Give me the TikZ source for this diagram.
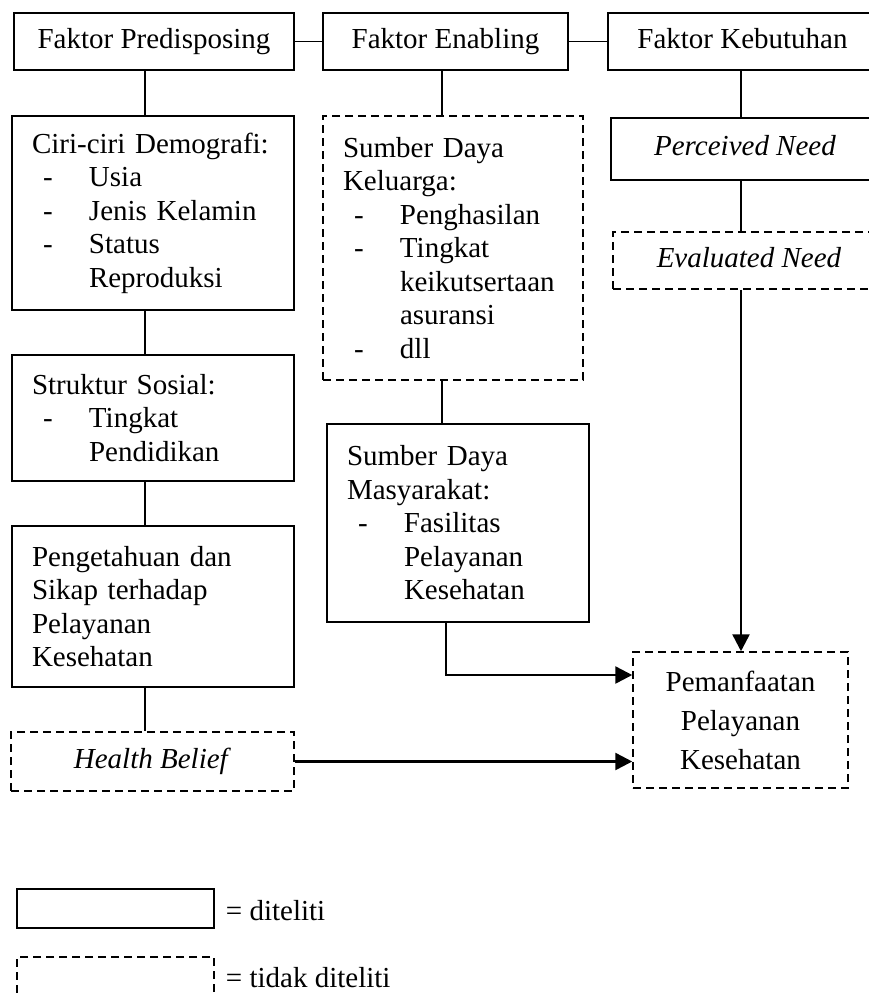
\documentclass[tikz,border=0pt]{standalone}
\usepackage{fontspec}
\setmainfont{Liberation Serif}
\usetikzlibrary{arrows.meta,positioning}
\newcommand{\dashitem}{\hspace*{11pt}\makebox[46pt][l]{-}}
\newcommand{\itemcont}{\hspace*{57pt}}
\newcommand{\boxfont}{\fontsize{29}{33.5}\selectfont}

\begin{document}
\begin{tikzpicture}[x=1pt, y=-1pt, >={Triangle[length=17pt,width=17pt]}, font=\boxfont]
		\tikzstyle{box} = [draw, line width=1.5pt, inner xsep=20pt, inner ysep=0pt]
		\tikzstyle{dbox} = [box, dash pattern=on 8pt off 5pt]
		\tikzstyle{line} = [text height=20pt, text depth=6.5pt]
		\tikzstyle{link} = [line width=1.5pt]
		\tikzstyle{arrow} = [->, line width=2.5pt]

		\useasboundingbox (0,0) rectangle (869,994);

		% faktor
		\node[box, line, minimum width=280pt, minimum height=57pt] (pred) at (154,41.5) {Faktor Predisposing};
		\node[box, line, minimum width=245pt, minimum height=57pt] (enab) at (445.5,41.5) {Faktor Enabling};
		\node[box, line, minimum width=269pt, minimum height=57pt] (kebu) at (742.5,41.5) {Faktor Kebutuhan};

		% predisposing
		\node[box, text width=242pt, align=left, minimum height=194pt] (ciri) at (153,213)
			{Ciri-ciri Demografi:\\ \dashitem Usia\\ \dashitem Jenis Kelamin\\ \dashitem Status\\ \itemcont Reproduksi};
		\node[box, text width=242pt, align=left, minimum height=126pt] (stru) at (153,418)
			{Struktur Sosial:\\ \dashitem Tingkat\\ \itemcont Pendidikan};
		\node[box, text width=242pt, align=left, minimum height=161pt] (peng) at (153,606.5)
			{Pengetahuan dan\\ Sikap terhadap\\ Pelayanan\\ Kesehatan};
		\node[dbox, line, minimum width=283pt, minimum height=59pt] (hb) at (152.5,761.5) {\textit{Health Belief}};

		% enabling
		\node[dbox, text width=220pt, align=left, minimum height=264pt] (kelu) at (453,248)
			{Sumber Daya\\ Keluarga:\\ \dashitem Penghasilan\\ \dashitem Tingkat\\ \itemcont keikutsertaan\\ \itemcont asuransi\\ \dashitem dll};
		\node[box, text width=222pt, align=left, minimum height=198pt] (pmas) at (458,523)
			{Sumber Daya\\ Masyarakat:\\ \dashitem Fasilitas\\ \itemcont Pelayanan\\ \itemcont Kesehatan};

		% kebutuhan
		\node[box, line, minimum width=268pt, minimum height=62pt] (perc) at (745,149) {\textit{Perceived Need}};
		\node[dbox, line, minimum width=272pt, minimum height=57pt] (eval) at (749,260.5) {\textit{Evaluated Need}};

		\node[dbox, text width=175pt, align=center, minimum height=136pt, font=\fontsize{29}{39}\selectfont] (pman) at (740.5,720)
			{Pemanfaatan\\ Pelayanan\\ Kesehatan};

		% legenda
		\node[box, minimum width=197pt, minimum height=39pt] (legA) at (115.5,908.5) {};
		\node[anchor=base west, inner sep=0pt] (legAtext) at ([xshift=11pt, yshift=-11.5pt]legA.east) {= diteliti};
		\node[dbox, minimum width=197pt, minimum height=46pt] (legB) at (115.5,980) {};
		\node[anchor=base west, inner sep=0pt] (legBtext) at ([xshift=11pt, yshift=-7pt]legB.east) {= tidak diteliti};

		\coordinate (lcol) at (145,0);
		\coordinate (mcol) at (442,0);
		\coordinate (rcol) at (741,0);

		\draw[link] (pred) -- (enab) (enab) -- (kebu);
		\draw[link] (pred.south -| lcol) -- (ciri.north -| lcol)
			(ciri.south -| lcol) -- (stru.north -| lcol)
			(stru.south -| lcol) -- (peng.north -| lcol)
			(peng.south -| lcol) -- (hb.north -| lcol);
		\draw[link] (enab.south -| mcol) -- (kelu.north -| mcol)
			(kelu.south -| mcol) -- (pmas.north -| mcol);
		\draw[link] (kebu.south -| rcol) -- (perc.north -| rcol)
			(perc.south -| rcol) -- (eval.north -| rcol);
		\draw[arrow] (eval.south -| rcol) -- (pman.north -| rcol);
		\draw[arrow] ([xshift=-12pt]pmas.south) |- ([yshift=45pt]pman.west);
		\draw[arrow] (hb) -- (hb -| pman.west);
		\end{tikzpicture}
\end{document}
